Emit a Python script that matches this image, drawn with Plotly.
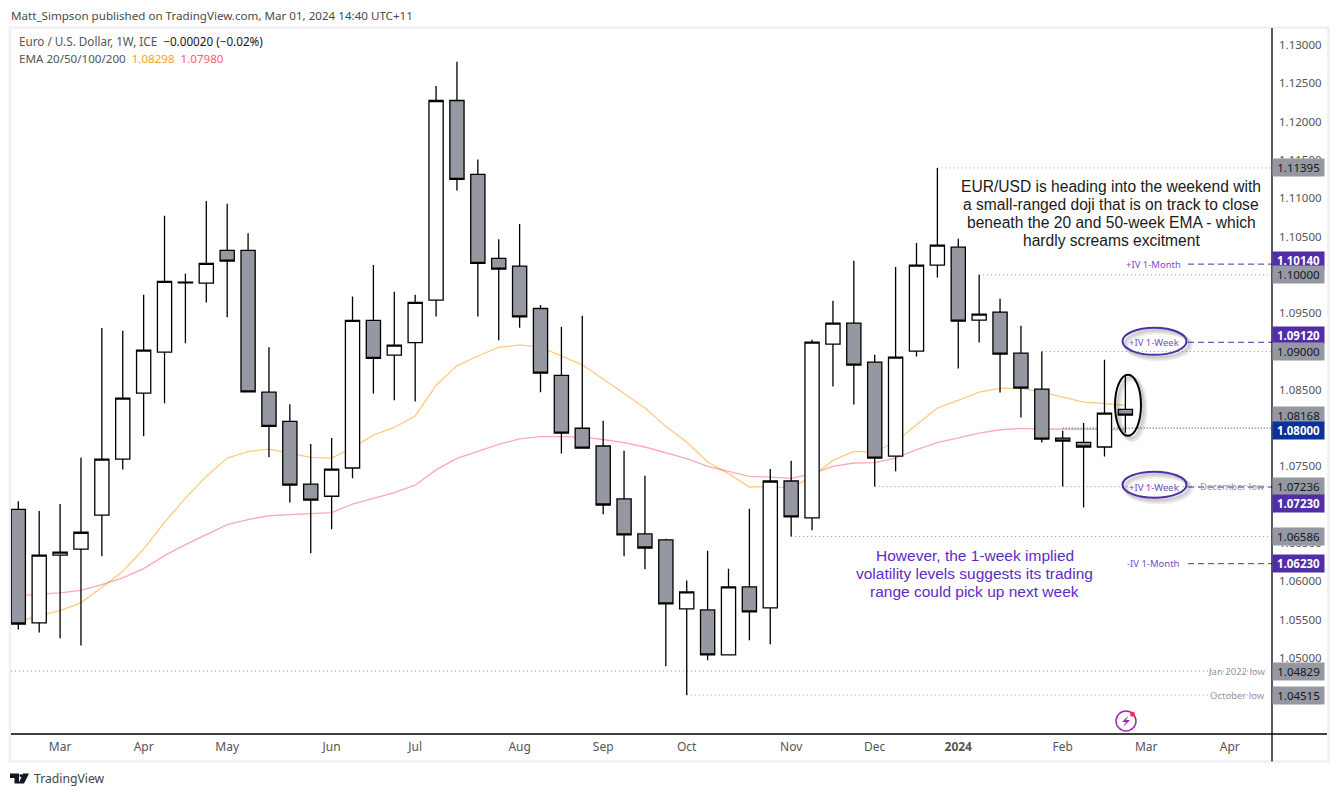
import plotly.graph_objects as go

# weekly EUR/USD candles
weeks = list(range(54))
opens = [1.06940, 1.05457, 1.06342, 1.06421, 1.06865, 1.07594, 1.08457, 1.08992, 1.09896, 1.09891,
         1.10320, 1.10320, 1.08468, 1.08088, 1.07269, 1.07110, 1.07479, 1.09405, 1.08951, 1.09116,
         1.09670, 1.12276, 1.11312, 1.10214, 1.10115, 1.09561, 1.08687, 1.07998, 1.07766, 1.07075,
         1.06618, 1.06540, 1.05640, 1.05627, 1.05040, 1.05927, 1.05653, 1.07309, 1.06827, 1.09096,
         1.09370, 1.08861, 1.07635, 1.09005, 1.10127, 1.10361, 1.09409, 1.09514, 1.08979, 1.08509,
         1.07870, 1.07813, 1.07753, 1.08243]
highs = [1.07045, 1.06919, 1.07009, 1.07613, 1.09306, 1.09271, 1.09741, 1.10770, 1.10014, 1.10963,
         1.10929, 1.10544, 1.09056, 1.08312, 1.07793, 1.07869, 1.09716, 1.10129, 1.09780, 1.09741,
         1.12465, 1.12780, 1.11507, 1.10464, 1.10664, 1.09605, 1.09321, 1.09465, 1.08096, 1.07705,
         1.07378, 1.06557, 1.06009, 1.06400, 1.06165, 1.06948, 1.07466, 1.07574, 1.09152, 1.09661,
         1.10183, 1.08957, 1.10104, 1.10417, 1.11395, 1.10470, 1.10000, 1.09687, 1.09335, 1.09000,
         1.07965, 1.08066, 1.08891, 1.08683]
lows = [1.05372, 1.05333, 1.05258, 1.05162, 1.06326, 1.07459, 1.07894, 1.08323, 1.09107, 1.09640,
        1.09446, 1.08470, 1.07618, 1.07030, 1.06366, 1.06681, 1.07345, 1.08452, 1.08363, 1.08348,
        1.09456, 1.11102, 1.09456, 1.09146, 1.09311, 1.08468, 1.07669, 1.07735, 1.06874, 1.06326,
        1.06156, 1.04891, 1.04515, 1.04969, 1.05036, 1.05230, 1.05178, 1.06586, 1.06665, 1.08543,
        1.08308, 1.07236, 1.07435, 1.08934, 1.09965, 1.08778, 1.09117, 1.08465, 1.08139, 1.07813,
        1.07239, 1.06965, 1.07630, 1.07939]
closes = [1.05443, 1.06342, 1.06381, 1.06640, 1.07594, 1.08392, 1.09017, 1.09915, 1.09906, 1.10150,
          1.10180, 1.08473, 1.08023, 1.07255, 1.07060, 1.07465, 1.09405, 1.08911, 1.09082, 1.09640,
          1.12276, 1.11247, 1.10150, 1.10074, 1.09451, 1.08717, 1.07933, 1.07738, 1.06996, 1.06605,
          1.06435, 1.05705, 1.05862, 1.05040, 1.05927, 1.05601, 1.07309, 1.06840, 1.09122, 1.09370,
          1.08822, 1.07609, 1.08927, 1.10127, 1.10388, 1.09396, 1.09488, 1.08966, 1.08522, 1.07857,
          1.07831, 1.07753, 1.08196, 1.08170]

ema20 = [1.05474, 1.05552, 1.05618, 1.05722, 1.05918, 1.06130, 1.06421, 1.06771, 1.07085, 1.07369,
         1.07609, 1.07694, 1.07724, 1.07669, 1.07618, 1.07609, 1.07744, 1.07908, 1.08008, 1.08158,
         1.08557, 1.08812, 1.08941, 1.09052, 1.09087, 1.09056, 1.08941, 1.08826, 1.08641, 1.08453,
         1.08261, 1.08021, 1.07818, 1.07557, 1.07405, 1.07231, 1.07239, 1.07213, 1.07369, 1.07578,
         1.07695, 1.07685, 1.07822, 1.08044, 1.08261, 1.08361, 1.08470, 1.08517, 1.08522, 1.08470,
         1.08405, 1.08340, 1.08321, 1.08298]
ema50 = [1.05813, 1.05830, 1.05848, 1.05882, 1.05957, 1.06044, 1.06165, 1.06335, 1.06478, 1.06609,
         1.06739, 1.06805, 1.06856, 1.06870, 1.06880, 1.06896, 1.07009, 1.07080, 1.07159, 1.07255,
         1.07454, 1.07604, 1.07694, 1.07788, 1.07858, 1.07888, 1.07888, 1.07883, 1.07851, 1.07809,
         1.07753, 1.07675, 1.07600, 1.07500, 1.07435, 1.07369, 1.07361, 1.07343, 1.07405, 1.07500,
         1.07544, 1.07548, 1.07609, 1.07718, 1.07809, 1.07870, 1.07935, 1.07978, 1.07995, 1.07988,
         1.07988, 1.07982, 1.07982, 1.07980]

tick_weeks = [2, 6, 10, 15, 19, 24, 28, 32, 37, 41, 45, 50, 54, 58]
tick_names = ["Mar", "Apr", "May", "Jun", "Jul", "Aug", "Sep", "Oct", "Nov", "Dec",
              "<b>2024</b>", "Feb", "Mar", "Apr"]

# dotted levels: price, week the line starts
dotted_prices = [1.11395, 1.10000, 1.09000, 1.07236, 1.06586, 1.04829, 1.04515]
dotted_starts = [44, 46, 49, 41, 37, -0.35, 32]
dotted_ends = [60.02, 60.02, 60.02, 60.02, 60.02, 59.3, 59.3]

iv_prices = [1.10140, 1.09120, 1.07230, 1.06230]
iv_labels = ["+IV 1-Month", "+IV 1-Week", "+IV 1-Week", "-IV 1-Month"]

# price axis badges
badge_prices = [1.11395, 1.10140, 1.10000, 1.09120, 1.09000, 1.08168, 1.08000, 1.07236, 1.07230, 1.06586, 1.06230, 1.04829, 1.04515]
badge_kinds = ["grey", "iv", "grey", "iv", "grey", "grey", "blue", "grey", "iv", "grey", "iv", "grey", "grey"]
badge_nudge = [0, 4, 0, 6.7, 0, 0, -2.4, 0, -16, 0, 0, 0, 0]

GREY = "#9598a1"
PURPLE = "#512da8"
BLUE = "#0c3299"
TV_FONT = "Noto Sans"

X_RANGE = [-0.35, 60.02]
Y_RANGE = [1.04007, 1.13222]
L, R, T, B = 11, 1272, 28, 734.5


def px(x):
    return (x - L) / (R - L)


def py(y):
    return (B - y) / (B - T)


fig = go.Figure()

fig.add_trace(go.Scatter(x=weeks, y=ema20, mode="lines", line=dict(color="rgba(255,152,0,0.5)", width=1.3), hoverinfo="skip"))
fig.add_trace(go.Scatter(x=weeks, y=ema50, mode="lines", line=dict(color="rgba(255,82,102,0.5)", width=1.3), hoverinfo="skip"))

for price, start, end in zip(dotted_prices, dotted_starts, dotted_ends):
    fig.add_trace(go.Scatter(x=[start, end], y=[price, price], mode="lines",
                             line=dict(color=GREY, width=1, dash="1px,3px"), hoverinfo="skip"))
fig.add_trace(go.Scatter(x=[50, 60.02], y=[1.08, 1.08], mode="lines",
                         line=dict(color=BLUE, width=1, dash="1px,2px"), hoverinfo="skip"))
for price in iv_prices:
    fig.add_trace(go.Scatter(x=[56, 60.02], y=[price, price], mode="lines",
                             line=dict(color=PURPLE, width=1, dash="6px,4px"), hoverinfo="skip"))

# candles sit on an overlay so the EMAs pass behind them
fig.add_trace(go.Candlestick(
    x=weeks, open=opens, high=highs, low=lows, close=closes,
    increasing=dict(fillcolor="white", line=dict(color="black", width=1.3)),
    decreasing=dict(fillcolor=GREY, line=dict(color="black", width=1.3)),
    xaxis="x2", yaxis="y2", hoverinfo="skip",
))

shapes = []
# chart frame
shapes.append(dict(type="rect", xref="paper", yref="paper", x0=px(10), x1=px(1328.5), y0=py(762), y1=py(27.5),
                   line=dict(color="#f0f0f5", width=2.5), layer="below"))
shapes.append(dict(type="line", xref="paper", yref="paper", x0=px(11), x1=px(1327), y0=py(734.5), y1=py(734.5),
                   line=dict(color="black", width=1.3)))
shapes.append(dict(type="line", xref="paper", yref="paper", x0=px(1272), x1=px(1272), y0=py(762), y1=py(28),
                   line=dict(color="black", width=1.3)))


def ellipse(x0, x1, y0, y1, color, width):
    return dict(type="circle", xref="paper", yref="paper", x0=px(x0), x1=px(x1), y0=py(y1), y1=py(y0),
                line=dict(color=color, width=width))


# soft shadows under the hand drawn ellipses
for box, color in [((1115, 1141, 375, 436), "black"), ((1122.5, 1186.5, 328, 355), PURPLE), ((1122.5, 1186.5, 472, 498), PURPLE)]:
    for off, w in [(4, 5), (3, 4), (2, 3)]:
        shapes.append(ellipse(box[0] + off, box[1] + off, box[2] + off, box[3] + off, "rgba(0,0,0,0.07)", w))
    shapes.append(ellipse(box[0], box[1], box[2], box[3], color, 2))

# flash icon
shapes.append(dict(type="circle", xref="paper", yref="paper", x0=px(1116), x1=px(1136), y0=py(731.5), y1=py(711.5),
                   line=dict(color="#9c27b0", width=1.5), fillcolor="white"))
shapes.append(dict(type="path", xref="paper", yref="paper",
                   path=f"M {px(1128.5)} {py(716)} L {px(1122)} {py(722.5)} L {px(1126)} {py(722.5)} L {px(1123)} {py(727.5)} "
                        f"L {px(1130)} {py(720.5)} L {px(1126)} {py(720.5)} Z",
                   fillcolor="#9c27b0", line=dict(width=0)))
shapes.append(dict(type="circle", xref="paper", yref="paper", x0=px(1130), x1=px(1135), y0=py(717.2), y1=py(712.2),
                   fillcolor="#f7374f", line=dict(width=0)))

# TradingView mark
shapes.append(dict(type="path", xref="paper", yref="paper",
                   path=f"M {px(10)} {py(774)} L {px(19)} {py(774)} L {px(19)} {py(784)} L {px(14.5)} {py(784)} L {px(14.5)} {py(778.5)} L {px(10)} {py(778.5)} Z",
                   fillcolor="#131722", line=dict(width=0)))
shapes.append(dict(type="circle", xref="paper", yref="paper", x0=px(19.5), x1=px(22.5), y0=py(777.5), y1=py(774.5),
                   fillcolor="#131722", line=dict(width=0)))
shapes.append(dict(type="path", xref="paper", yref="paper",
                   path=f"M {px(23)} {py(774)} L {px(29)} {py(774)} L {px(24)} {py(784)} L {px(18.5)} {py(784)} Z",
                   fillcolor="#131722", line=dict(width=0)))

annotations = []


def pixel_text(text, x, y, size, color, anchor="left", font=TV_FONT, bg=None):
    annotations.append(dict(text=text, xref="paper", yref="paper", x=px(x), y=py(y), xanchor=anchor, yanchor="middle",
                            showarrow=False, bgcolor=bg, borderpad=0,
                            font=dict(family=font, size=size, color=color)))


pixel_text("Matt_Simpson published on TradingView.com, Mar 01, 2024 14:40 UTC+11", 10, 15, 11.6, "#4a4a4a")
pixel_text('Euro / U.S. Dollar, 1W, ICE  <span style="color:#131722">−0.00020 (−0.02%)</span>', 18, 41.5, 11.7, "#555555")
pixel_text('EMA 20/50/100/200  <span style="color:#ff9f1a">1.08298</span>  <span style="color:#ff5a6e">1.07980</span>', 18, 58.5, 11.6, "#555555")
pixel_text("TradingView", 33, 779.5, 12.2, "#444444")

note_lines = ["EUR/USD is heading into the weekend with", "a small-ranged doji that is on track to close",
              "beneath the 20 and 50-week EMA - which", "hardly screams excitment"]
for i, line in enumerate(note_lines):
    pixel_text(line, 1111, 186.7 + i * 18, 15.6, "#1a1a1a", anchor="center", font="Liberation Sans")

vol_lines = ["However, the 1-week implied", "volatility levels suggests its trading", "range could pick up next week"]
for i, line in enumerate(vol_lines):
    pixel_text(line, 975, 556 + i * 18, 15.5, "#5e2bc4", anchor="center", font="Liberation Sans")

for price, label in zip(iv_prices, iv_labels):
    annotations.append(dict(text=label, xref="x", yref="y", x=54.37, y=price, xanchor="center", yanchor="middle",
                            showarrow=False, font=dict(family=TV_FONT, size=9.5, color="#6f53c4")))

pixel_text("December low", 1266, 486.7, 9.5, GREY, anchor="right")
pixel_text("Jan 2022 low", 1266, 671.5, 9.5, GREY, anchor="right")
pixel_text("October low", 1266, 695.5, 9.5, GREY, anchor="right")

badge_fill = {"grey": GREY, "iv": PURPLE, "blue": BLUE}
for price, kind, nudge in zip(badge_prices, badge_kinds, badge_nudge):
    is_grey = kind == "grey"
    text = f"{price:.5f}" if is_grey else f"<b>{price:.5f}</b>"
    annotations.append(dict(text=text, xref="paper", yref="y", x=1.0, y=price, xanchor="left", yanchor="middle",
                            yshift=nudge, showarrow=False, width=48, height=14, borderpad=1.5, align="center",
                            bgcolor=badge_fill[kind],
                            font=dict(family=TV_FONT, size=11.5, color="#131722" if is_grey else "white")))

fig.update_layout(
    width=1338, height=797,
    margin=dict(l=L, r=1338 - R, t=T, b=797 - B),
    paper_bgcolor="white", plot_bgcolor="white",
    showlegend=False,
    boxgap=0, boxgroupgap=0.32,
    shapes=shapes, annotations=annotations,
    xaxis=dict(range=X_RANGE, tickmode="array", tickvals=tick_weeks, ticktext=tick_names,
               showgrid=False, zeroline=False, showline=False, ticks="", ticklabelstandoff=4,
               tickfont=dict(family=TV_FONT, size=12, color="#555555"), rangeslider=dict(visible=False)),
    yaxis=dict(range=Y_RANGE, side="right", dtick=0.005, tick0=1.05, tickformat=".5f",
               showgrid=False, zeroline=False, showline=False, ticks="", ticklabelstandoff=6,
               tickfont=dict(family=TV_FONT, size=11.5, color="#555555")),
    xaxis2=dict(range=X_RANGE, overlaying="x", visible=False, rangeslider=dict(visible=False)),
    yaxis2=dict(range=Y_RANGE, overlaying="y", visible=False),
)

fig.write_html("out.html", config=dict(displayModeBar=False), post_script="document.body.style.margin='0';")
